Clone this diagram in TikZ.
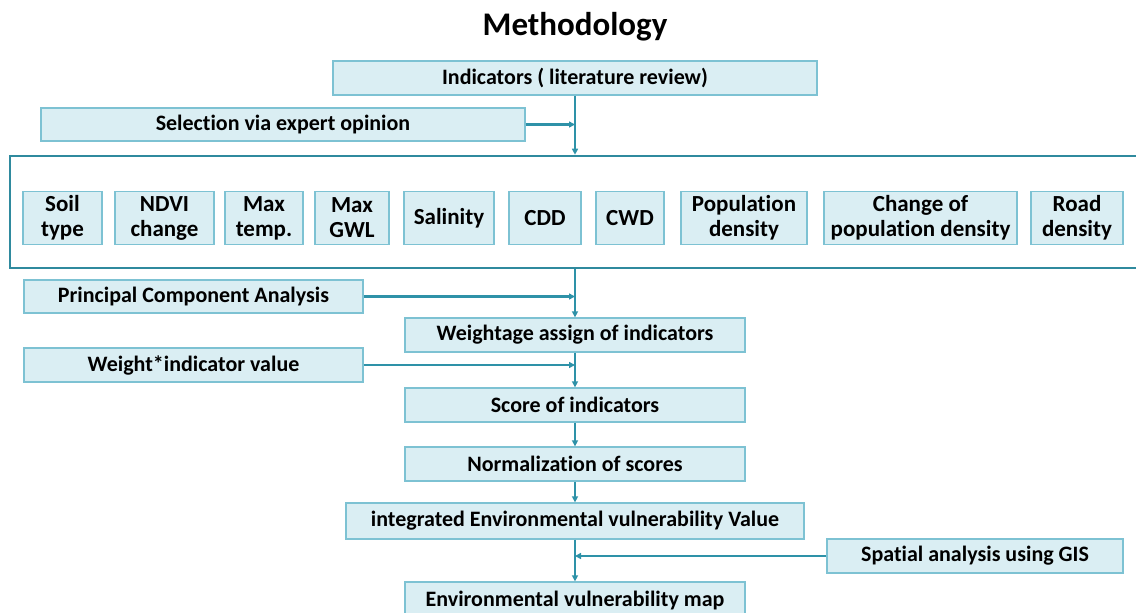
\documentclass[tikz,border=0pt]{standalone}
\usepackage{fontspec}
\setmainfont{Carlito}[Ligatures=NoCommon]
\usetikzlibrary{arrows.meta}
\definecolor{boxfill}{HTML}{DAEEF3}
\definecolor{boxline}{HTML}{7DC2D3}
\definecolor{teal}{HTML}{2E92A8}
\definecolor{bigline}{HTML}{2F8A9E}
\tikzset{
  flowbox/.style={draw=boxline, fill=boxfill, line width=1.3pt, inner sep=0pt, minimum height=34pt,
    font=\fontsize{22}{26}\selectfont\bfseries, align=center, text=black},
  indbox/.style={draw=boxline, fill=boxfill, line width=1.3pt, inner sep=0pt, minimum height=53pt,
    font=\fontsize{23}{25}\selectfont\bfseries, align=center, text=black},
  bigbox/.style={draw=bigline, line width=2.6pt, inner sep=0pt},
  arr/.style={draw=teal, line width=2.2pt, -{Triangle[length=6pt,width=6pt]}},
}
\begin{document}
\begin{tikzpicture}[x=1pt,y=-1pt]
\useasboundingbox (0,0) rectangle (1136,613);
\clip (0,0) rectangle (1136,613);
\node[font=\fontsize{33}{40}\selectfont\bfseries] (title) at (575,27) {Methodology};
\node[flowbox, minimum width=484pt] (ind) at (575,78) {Indicators ( literature review)};
\node[flowbox, minimum width=484pt, minimum height=33pt] (sel) at (283,124.5) {Selection via expert opinion};
\node[bigbox, minimum width=1140pt, minimum height=112pt] (big) at (580,212) {};
\node[indbox, minimum width=79pt] (soil) at (62.5,218) {Soil\\type};
\node[indbox, minimum width=99pt] (ndvi) at (164.5,218) {NDVI\\change};
\node[indbox, minimum width=78pt] (maxt) at (264,218) {Max\\temp.};
\node[indbox, minimum width=74pt] (gwl) at (352,218) {Max\\GWL};
\node[indbox, minimum width=90pt] (sal) at (449,218) {Salinity};
\node[indbox, minimum width=72pt] (cdd) at (545,218) {CDD};
\node[indbox, minimum width=68pt] (cwd) at (630,218) {CWD};
\node[indbox, minimum width=126pt] (pop) at (744,218) {Population\\density};
\node[indbox, minimum width=193pt] (cpop) at (920.5,218) {Change of\\population density};
\node[indbox, minimum width=92pt] (road) at (1077,218) {Road\\density};
\node[flowbox, minimum width=339pt, minimum height=33pt] (pca) at (193.5,296.5) {Principal Component Analysis};
\node[flowbox, minimum width=340pt] (wgt) at (575,335) {Weightage assign of indicators};
\node[flowbox, minimum width=339pt] (wiv) at (193.5,365) {Weight*indicator value};
\node[flowbox, minimum width=340pt] (score) at (575,405) {Score of indicators};
\node[flowbox, minimum width=340pt] (norm) at (575,464) {Normalization of scores};
\node[flowbox, minimum width=458pt, minimum height=36pt] (integ) at (575,521) {integrated Environmental vulnerability Value};
\node[flowbox, minimum width=296pt] (gis) at (975,556) {Spatial analysis using GIS};
\node[flowbox, minimum width=340pt, minimum height=38pt] (map) at (575,601) {Environmental vulnerability map};
\draw[arr] (ind.south) -- (ind.south |- big.north);
\draw[arr] (sel.east) -- (ind.south |- sel.east);
\draw[arr] (wgt.north |- big.south) -- (wgt.north);
\draw[arr] (pca.east) -- (wgt.north |- pca.east);
\draw[arr] (wgt.south) -- (score.north);
\draw[arr] (wiv.east) -- (score.north |- wiv.east);
\draw[arr] (score.south) -- (norm.north);
\draw[arr] (norm.south) -- (integ.north);
\draw[arr] (integ.south) -- (map.north);
\draw[arr] (gis.west) -- (map.north |- gis.west);
\end{tikzpicture}
\end{document}
